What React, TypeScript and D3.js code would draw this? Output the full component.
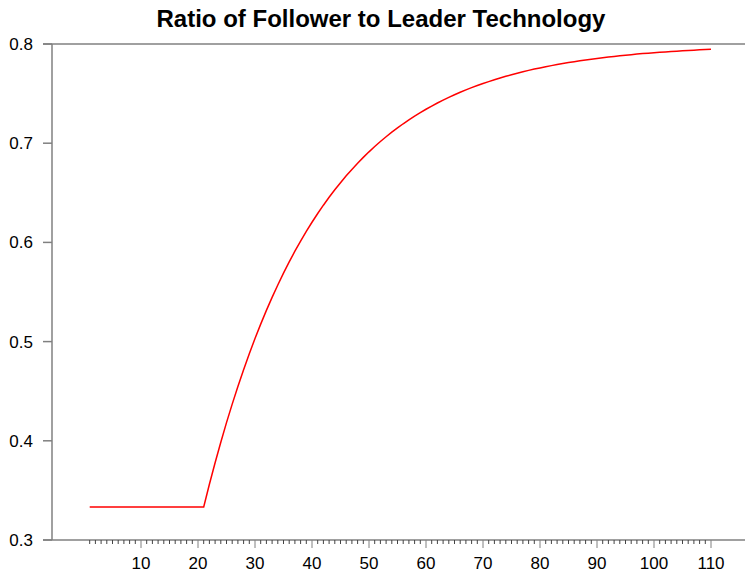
import React, { useMemo } from 'react';
import { scaleLinear, line, range } from 'd3';

const W = 745;
const H = 572;
const TITLE = 'Ratio of Follower to Leader Technology';
const AXIS_GRAY = '#808080';
const LINE_RED = '#ff0000';

// ratio per period
const FLAT_PERIODS = range(1, 21); // 1..20, flat before take-off
const FLAT_VALUE = 0.3333;
const RISE_START = 21;
const RISE_VALUES = [
  0.3333, 0.3562, 0.3779, 0.3986, 0.4183, 0.437, 0.4548, 0.4717, 0.4878, 0.5031,
  0.5176, 0.5315, 0.5446, 0.5571, 0.569, 0.5803, 0.5911, 0.6013, 0.6111, 0.6203,
  0.6291, 0.6375, 0.6455, 0.653, 0.6602, 0.6671, 0.6736, 0.6798, 0.6857, 0.6913,
  0.6966, 0.7017, 0.7065, 0.7111, 0.7154, 0.7196, 0.7235, 0.7273, 0.7308, 0.7342,
  0.7374, 0.7405, 0.7434, 0.7462, 0.7488, 0.7513, 0.7537, 0.756, 0.7581, 0.7602,
  0.7621, 0.764, 0.7658, 0.7674, 0.769, 0.7706, 0.772, 0.7734, 0.7747, 0.7759,
  0.7771, 0.7782, 0.7793, 0.7803, 0.7813, 0.7822, 0.7831, 0.7839, 0.7847, 0.7854,
  0.7861, 0.7868, 0.7875, 0.7881, 0.7887, 0.7892, 0.7898, 0.7903, 0.7907, 0.7912,
  0.7916, 0.792, 0.7924, 0.7928, 0.7931, 0.7935, 0.7938, 0.7941, 0.7944, 0.7947,
];

const Y_TICKS = [0.3, 0.4, 0.5, 0.6, 0.7, 0.8];
const X_MAJOR = [10, 20, 30, 40, 50, 60, 70, 80, 90, 100, 110];
const X_MINOR = range(1, 111);

export default function App() {
  const chart = useMemo(() => {
    const x = scaleLinear().domain([1, 110]).range([89.7, 711]);
    const y = scaleLinear().domain([0.3, 0.8]).range([540, 44]);
    const pts: [number, number][] = [
      ...FLAT_PERIODS.map((t) => [t, FLAT_VALUE] as [number, number]),
      ...RISE_VALUES.map((v, i) => [RISE_START + i, v] as [number, number]),
    ];
    const path = line<[number, number]>()
      .x((d) => x(d[0]))
      .y((d) => y(d[1]))(pts);
    return { x, y, path };
  }, []);

  const { x, y, path } = chart;
  const axisX = 52;
  const tickLeft = 43;
  const font = '"Liberation Sans", Arial, sans-serif';

  return (
    <svg
      width={W}
      height={H}
      style={{ position: 'absolute', left: 0, top: 0, background: '#fff' }}
      fontFamily={font}
    >
      <text x={381} y={27} textAnchor="middle" fontSize={24} fontWeight="bold" fill="#000">
        {TITLE}
      </text>

      {/* frame lines at top and bottom of the y range */}
      <line x1={tickLeft} x2={W} y1={y(0.8)} y2={y(0.8)} stroke={AXIS_GRAY} strokeWidth={1.5} />
      <line x1={tickLeft} x2={W} y1={y(0.3)} y2={y(0.3)} stroke={AXIS_GRAY} strokeWidth={1.5} />
      <line x1={axisX} x2={axisX} y1={y(0.8)} y2={y(0.3)} stroke={AXIS_GRAY} strokeWidth={1.5} />

      {Y_TICKS.map((t) => (
        <g key={t}>
          <line x1={tickLeft} x2={axisX} y1={y(t)} y2={y(t)} stroke={AXIS_GRAY} strokeWidth={1.5} />
          <text x={33} y={y(t)} dy="0.35em" textAnchor="end" fontSize={17} fill="#000">
            {t.toFixed(1)}
          </text>
        </g>
      ))}

      {X_MINOR.map((t) => (
        <line
          key={t}
          x1={x(t)}
          x2={x(t)}
          y1={540}
          y2={X_MAJOR.includes(t) ? 548 : 544}
          stroke={X_MAJOR.includes(t) ? AXIS_GRAY : '#444'}
          strokeWidth={1}
        />
      ))}
      {X_MAJOR.map((t) => (
        <text key={t} x={x(t)} y={569} textAnchor="middle" fontSize={17} fill="#000">
          {t}
        </text>
      ))}

      <path d={path ?? ''} fill="none" stroke={LINE_RED} strokeWidth={1.5} />
    </svg>
  );
}
